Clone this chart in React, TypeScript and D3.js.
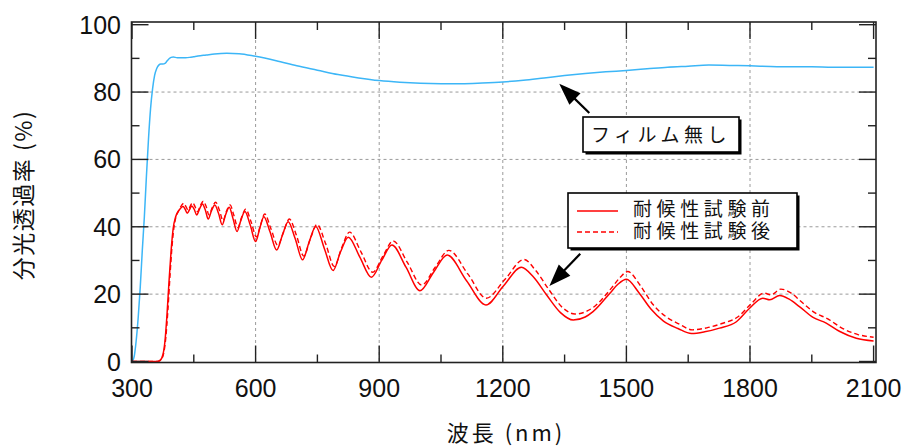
import React from 'react';
import * as d3 from 'd3';

// ---- data ----
const xTicks = [300, 600, 900, 1200, 1500, 1800, 2100];
const xMinor = [450, 750, 1050, 1350, 1650, 1950];
const yTicks = [0, 20, 40, 60, 80, 100];
const yMinor = [10, 30, 50, 70, 90];
const xGrid = [600, 900, 1200, 1500, 1800];
const yGrid = [20, 40, 60, 80];

// フィルム無し
const blueWl = [300,303,306,310,315,320,325,330,335,340,345,350,355,360,365,370,375,380,385,390,395,400,410,420,430,440,450,460,480,500,530,560,600,650,700,750,800,850,900,950,1000,1050,1100,1150,1200,1250,1300,1350,1400,1450,1500,1550,1600,1650,1700,1750,1800,1850,1900,1950,2000,2050,2100];
const blueT = [0,0.5,2,6,13,22,33,43,55,66,75,81,85,87,88,88.3,88.3,88.5,89.2,89.9,90.3,90.4,90.2,90.2,90.2,90.3,90.5,90.7,91.0,91.3,91.5,91.4,90.6,89.3,87.8,86.5,85.2,84.2,83.4,82.9,82.6,82.5,82.5,82.7,83,83.5,84.2,84.9,85.5,86,86.4,86.9,87.4,87.7,88,87.9,87.8,87.6,87.5,87.5,87.4,87.4,87.4];

// 耐候性試験前
const beforeWl = [300,360,368,375,380,385,390,395,400,406,412,418,424,429,434,440,445,451,457,464,471,478,485,493,501,510,519,527,536,545,555,564,574,587,600,610,620,635,651,665,679,696,714,730,746,767,788,806,825,853,881,906,931,965,999,1032,1065,1112,1159,1202,1245,1275,1306,1340,1371,1400,1419,1460,1480,1500,1530,1560,1590,1625,1658,1690,1726,1767,1799,1831,1848,1872,1895,1920,1953,1985,2018,2058,2100];
const beforeT = [0,0,0.3,2,6,14,24,33,39.5,43,44.5,45.5,46.0,45.2,44.0,45.2,46.2,45.2,43.5,45.3,46.8,45,42.3,44.8,46.5,44,40.6,43.5,45.8,42.5,38.6,41.8,44.5,40.5,35.6,39.5,43.0,38.5,33.1,37.5,41.5,36.5,30.2,35.5,40.1,33.5,27.0,32.5,36.9,31,25.0,30,34.6,28,21.0,26.5,31.6,24,16.8,22.5,28.0,25,19.8,14.5,12.3,13.2,14.8,20.3,23,24.4,20.5,15.5,12.0,9.8,8.3,8.8,9.9,11.8,15.8,18.8,18.3,19.6,18.5,16.3,13.1,11.4,8.9,6.9,6.1];

// 耐候性試験後
const afterWl = [300,362,370,377,382,387,392,397,402,407,414,420,426,431,436,442,447,453,459,466,473,480,487,495,503,512,521,529,538,547,557,566,576,589,602,612,622,637,654,668,682,699,717,733,749,770,791,809,828,856,884,909,934,968,1003,1036,1069,1115,1160,1206,1251,1280,1311,1345,1375,1405,1424,1465,1485,1503,1534,1564,1594,1630,1660,1695,1730,1770,1802,1834,1851,1875,1900,1924,1957,1990,2022,2062,2100];
const afterT = [0,0,0.5,2.5,7,15,25,34,40,43,45,46.3,47.0,46,45,46.3,47.2,46,44.5,46.3,47.6,46,43.5,45.8,47.3,45,41.8,44.5,46.5,43.5,39.8,42.8,45.2,41.5,37,40.5,43.8,39.5,34.5,38.5,42.3,37.5,31.3,36.5,40.7,35,28.2,33.8,38.4,32.5,26.5,31.3,35.8,29.5,22.7,28,33.0,26,18.8,24.5,30.3,27,21.5,16,14.1,15,16.5,22,25,26.7,22.5,17,13.5,11,9.4,10,11.2,13.2,17,20.3,19.8,21.5,20.3,17.8,14.5,12.6,10,8,7.2];

const legendLabels = ['耐候性試験前', '耐候性試験後'];
const noFilmLabel = 'フィルム無し';

const W = 904;
const H = 448;
const latin = '"Liberation Sans", Arial, sans-serif';
const cjk = '"Noto Sans CJK JP", "Noto Sans CJK SC", sans-serif';

function Arrow({ tail, tip }: { tail: [number, number]; tip: [number, number] }) {
  const dx = tip[0] - tail[0];
  const dy = tip[1] - tail[1];
  const len = Math.hypot(dx, dy);
  const ux = dx / len, uy = dy / len;
  const hl = 22, hw = 8;
  const bx = tip[0] - ux * hl, by = tip[1] - uy * hl;
  const px = -uy, py = ux;
  return (
    <g>
      <line x1={tail[0]} y1={tail[1]} x2={bx + ux * 2} y2={by + uy * 2} stroke="#000" strokeWidth={2.2} />
      <polygon points={`${tip[0]},${tip[1]} ${bx + px * hw},${by + py * hw} ${bx - px * hw},${by - py * hw}`} fill="#000" />
    </g>
  );
}

export default function App() {
  const x = d3.scaleLinear().domain([300, 2100]).range([132, 873.6]);
  const y = d3.scaleLinear().domain([0, 100]).range([361.5, 24.7]);
  const fL = 131.5, fR = 876, fT = 22, fB = 362.5;

  const mk = (wl: number[], t: number[]) =>
    d3.line<number>().x((_, i) => x(wl[i])).y((_, i) => y(t[i])).curve(d3.curveMonotoneX)(wl.map((_, i) => i)) || '';

  const bluePath = mk(blueWl, blueT);
  const beforePath = mk(beforeWl, beforeT);
  const afterPath = mk(afterWl, afterT);

  const arrow1Tail: [number, number] = [x(1410), y(73.8)];
  const arrow1Tip: [number, number] = [x(1337), y(82.5)];
  const arrow2Tail: [number, number] = [x(1388), y(32)];
  const arrow2Tip: [number, number] = [x(1313), y(22.4)];

  return (
    <svg width={W} height={H} style={{ position: 'absolute', left: 0, top: 0, background: '#fff' }}>
      <rect x={0} y={0} width={W} height={H} fill="#fff" />
      {/* grid */}
      {xGrid.map((v) => (
        <line key={'gx' + v} x1={x(v)} x2={x(v)} y1={fT} y2={fB} stroke="#9a9a9a" strokeWidth={1} strokeDasharray="3,3" />
      ))}
      {yGrid.map((v) => (
        <line key={'gy' + v} x1={fL} x2={fR} y1={y(v)} y2={y(v)} stroke="#9a9a9a" strokeWidth={1} strokeDasharray="3,3" />
      ))}
      {/* series */}
      <path d={bluePath} fill="none" stroke="#3cb6f7" strokeWidth={1.5} />
      <path d={afterPath} fill="none" stroke="#ff0000" strokeWidth={1.4} strokeDasharray="5,3" />
      <path d={beforePath} fill="none" stroke="#ff0000" strokeWidth={1.5} />
      {/* frame */}
      <rect x={fL} y={fT} width={fR - fL} height={fB - fT} fill="none" stroke="#222" strokeWidth={1.6} />
      {/* ticks */}
      {xTicks.map((v) => (
        <g key={'xt' + v}>
          <line x1={x(v)} x2={x(v)} y1={fB} y2={fB - 17} stroke="#222" strokeWidth={1.4} />
          <line x1={x(v)} x2={x(v)} y1={fT} y2={fT + 17} stroke="#222" strokeWidth={1.4} />
          <text x={x(v)} y={396.5} textAnchor="middle" fontFamily={latin} fontSize={25} fill="#111">{v}</text>
        </g>
      ))}
      {xMinor.map((v) => (
        <g key={'xm' + v}>
          <line x1={x(v)} x2={x(v)} y1={fB} y2={fB - 8} stroke="#222" strokeWidth={1.4} />
          <line x1={x(v)} x2={x(v)} y1={fT} y2={fT + 8} stroke="#222" strokeWidth={1.4} />
        </g>
      ))}
      {yTicks.map((v) => (
        <g key={'yt' + v}>
          <line x1={fL} x2={fL + 17} y1={y(v)} y2={y(v)} stroke="#222" strokeWidth={1.4} />
          <line x1={fR} x2={fR - 17} y1={y(v)} y2={y(v)} stroke="#222" strokeWidth={1.4} />
          <text x={121} y={y(v) + 9} textAnchor="end" fontFamily={latin} fontSize={25} fill="#111">{v}</text>
        </g>
      ))}
      {yMinor.map((v) => (
        <g key={'ym' + v}>
          <line x1={fL} x2={fL + 8} y1={y(v)} y2={y(v)} stroke="#222" strokeWidth={1.4} />
          <line x1={fR} x2={fR - 8} y1={y(v)} y2={y(v)} stroke="#222" strokeWidth={1.4} />
        </g>
      ))}
      {/* axis titles */}
      <text x={506} y={441} textAnchor="middle" fontFamily={cjk} fontSize={22} letterSpacing={3} fill="#111">波長 (nm)</text>
      <text transform="translate(32,195) rotate(-90)" textAnchor="middle" fontFamily={cjk} fontSize={23} letterSpacing={1.5} fill="#111">分光透過率 (%)</text>

      {/* no-film label */}
      <Arrow tail={arrow1Tail} tip={arrow1Tip} />
      <rect x={585.5} y={119.5} width={156} height={35} fill="#000" />
      <rect x={583} y={117} width={156} height={35} fill="#fff" stroke="#000" strokeWidth={1.6} />
      <text x={661} y={142} textAnchor="middle" fontFamily={cjk} fontSize={19} letterSpacing={4.5} fill="#111">{noFilmLabel}</text>

      {/* legend */}
      <Arrow tail={arrow2Tail} tip={arrow2Tip} />
      <rect x={570.5} y={195.5} width={229} height={55} fill="#000" />
      <rect x={568} y={193} width={229} height={55} fill="#fff" stroke="#000" strokeWidth={1.6} />
      <line x1={577} x2={618} y1={211} y2={211} stroke="#ff0000" strokeWidth={1.5} />
      <line x1={577} x2={618} y1={232} y2={232} stroke="#ff0000" strokeWidth={1.4} strokeDasharray="5,3" />
      <text x={633} y={215.5} fontFamily={cjk} fontSize={19} letterSpacing={4.6} fill="#111">{legendLabels[0]}</text>
      <text x={633} y={238} fontFamily={cjk} fontSize={19} letterSpacing={4.6} fill="#111">{legendLabels[1]}</text>
    </svg>
  );
}
